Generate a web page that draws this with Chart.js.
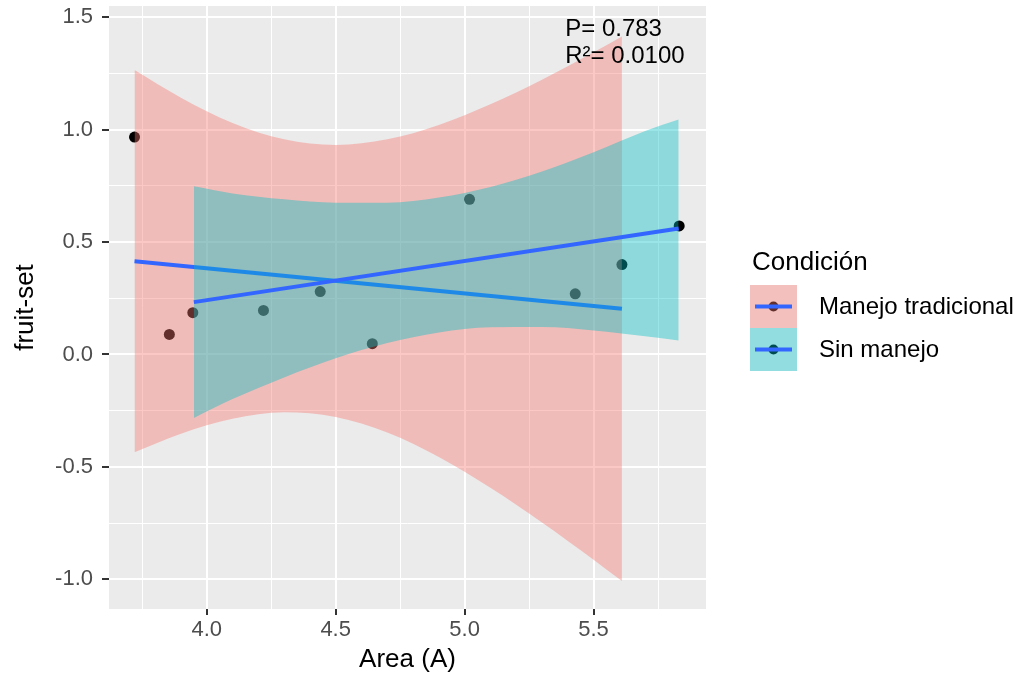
<!DOCTYPE html>
<html lang="es">
<head>
<meta charset="UTF-8">
<title>fruit-set vs Area (A)</title>
<script src="https://cdn.jsdelivr.net/npm/chart.js"></script>
<style>
    body { margin: 0; background: #fff; }
    #wrap { width: 1022px; height: 682px; }
</style>
</head>
<body>
<div id="wrap"><canvas id="fruitChart" width="1022" height="682"></canvas></div>
<script>
    // grupos
    const groups = ['Manejo tradicional', 'Sin manejo'];
    const groupFill = ['rgba(248,118,109,0.4)', 'rgba(0,191,196,0.4)'];
    const lineColor = '#3366FF';

    // puntos observados
    const tradX = [3.72, 3.855, 4.44, 5.61];
    const tradY = [0.967, 0.089, 0.280, 0.400];
    const sinX = [3.946, 4.22, 4.642, 5.019, 5.429, 5.832];
    const sinY = [0.186, 0.196, 0.048, 0.690, 0.270, 0.572];

    // rectas ajustadas (extremos)
    const tradFitX = [3.72, 5.61];
    const tradFitY = [0.415, 0.203];
    const sinFitX = [3.95, 5.83];
    const sinFitY = [0.233, 0.560];

    // bandas de confianza
    const tradBandX = [3.72, 3.9, 4.1, 4.3, 4.5, 4.7, 4.9, 5.1, 5.3, 5.5, 5.61];
    const tradUpper = [1.265, 1.142, 1.030, 0.957, 0.932, 0.957, 1.021, 1.113, 1.222, 1.344, 1.414];
    const tradLower = [-0.435, -0.352, -0.286, -0.257, -0.278, -0.347, -0.456, -0.593, -0.747, -0.913, -1.008];
    const sinBandX = [3.95, 4.1, 4.3, 4.5, 4.7, 4.9, 5.1, 5.3, 5.5, 5.7, 5.83];
    const sinUpper = [0.748, 0.716, 0.690, 0.675, 0.675, 0.698, 0.745, 0.814, 0.899, 0.994, 1.045];
    const sinLower = [-0.282, -0.198, -0.102, -0.017, 0.051, 0.098, 0.121, 0.122, 0.107, 0.081, 0.062];

    // ejes
    const xTicks = [3.75, 4.0, 4.25, 4.5, 4.75, 5.0, 5.25, 5.5, 5.75];
    const yTicks = [-1.0, -0.75, -0.5, -0.25, 0, 0.25, 0.5, 0.75, 1.0, 1.25, 1.5];
    const xRange = [3.621, 5.936];
    const yRange = [-1.132, 1.55];

    // texto de la anotación
    const noteText = ['P= 0.783', 'R\u00B2= 0.0100'];
    const noteX = 5.39;
    const noteY = [1.417, 1.297];

    const FONT = '"Liberation Sans", Arial, Helvetica, sans-serif';
    Chart.defaults.font.family = FONT;

    const toXY = (xs, ys) => xs.map((x, i) => ({ x: x, y: ys[i] }));
    const isMajor = v => Math.abs(v * 2 - Math.round(v * 2)) < 1e-9;

    function band(xs, ys, color, fill, order) {
        return {
            type: 'line', data: toXY(xs, ys), order: order,
            borderWidth: 0, borderColor: 'rgba(0,0,0,0)', backgroundColor: color,
            pointRadius: 0, fill: fill, cubicInterpolationMode: 'monotone'
        };
    }
    function fitLine(xs, ys, order) {
        return {
            type: 'line', data: toXY(xs, ys), order: order,
            borderColor: lineColor, borderWidth: 4, pointRadius: 0, fill: false
        };
    }
    function points(xs, ys) {
        return {
            type: 'line', data: toXY(xs, ys), order: 4, showLine: false,
            pointRadius: 5.5, pointBackgroundColor: '#000', pointBorderWidth: 0
        };
    }

    // fondo gris del panel
    const panelBg = {
        id: 'panelBg',
        beforeDraw(chart) {
            const { ctx, chartArea: a } = chart;
            ctx.save();
            ctx.fillStyle = '#EBEBEB';
            ctx.fillRect(a.left, a.top, a.right - a.left, a.bottom - a.top);
            ctx.restore();
        }
    };

    // P y R2
    const statsNote = {
        id: 'statsNote',
        afterDatasetsDraw(chart) {
            const { ctx, scales } = chart;
            ctx.save();
            ctx.font = '24px ' + FONT;
            ctx.fillStyle = '#000';
            ctx.textAlign = 'left';
            ctx.textBaseline = 'alphabetic';
            const px = scales.x.getPixelForValue(noteX);
            noteText.forEach((t, i) => ctx.fillText(t, px, scales.y.getPixelForValue(noteY[i])));
            ctx.restore();
        }
    };

    // leyenda estilo ggplot
    const sideLegend = {
        id: 'sideLegend',
        afterDraw(chart) {
            const ctx = chart.ctx;
            const left = 750, top = 285, kw = 47, kh = 43;
            ctx.save();
            ctx.fillStyle = '#000';
            ctx.font = '26px ' + FONT;
            ctx.textBaseline = 'alphabetic';
            ctx.fillText('Condición', 752, 270);
            groups.forEach((g, i) => {
                const y0 = top + i * kh;
                const cy = y0 + kh / 2;
                ctx.fillStyle = '#F2F2F2';
                ctx.fillRect(left, y0, kw, kh);
                ctx.fillStyle = '#000';
                ctx.beginPath();
                ctx.arc(left + kw / 2, cy, 5, 0, Math.PI * 2);
                ctx.fill();
                ctx.fillStyle = groupFill[i];
                ctx.fillRect(left, y0, kw, kh);
                ctx.strokeStyle = lineColor;
                ctx.lineWidth = 4;
                ctx.beginPath();
                ctx.moveTo(left + 5, cy);
                ctx.lineTo(left + kw - 5, cy);
                ctx.stroke();
                ctx.fillStyle = '#000';
                ctx.font = '24px ' + FONT;
                ctx.textBaseline = 'middle';
                ctx.fillText(g, 819, cy + 1);
            });
            ctx.restore();
        }
    };

    const gridOpts = {
        color: '#FFFFFF',
        lineWidth: c => (c.tick && isMajor(c.tick.value)) ? 2 : 1,
        tickColor: c => (c.tick && isMajor(c.tick.value)) ? '#333333' : 'rgba(0,0,0,0)',
        tickWidth: 2,
        drawTicks: true
    };

    const ctx = document.getElementById('fruitChart').getContext('2d');
    new Chart(ctx, {
        type: 'line',
        data: {
            datasets: [
                fitLine(sinFitX, sinFitY, 0),
                band(sinBandX, sinUpper, groupFill[1], '+1', 1),
                band(sinBandX, sinLower, groupFill[1], false, 1),
                fitLine(tradFitX, tradFitY, 2),
                band(tradBandX, tradUpper, groupFill[0], '+1', 3),
                band(tradBandX, tradLower, groupFill[0], false, 3),
                points(tradX, tradY),
                points(sinX, sinY)
            ]
        },
        options: {
            responsive: false,
            animation: false,
            devicePixelRatio: 1,
            layout: { padding: { top: 6, right: 316, left: 0, bottom: 0 } },
            plugins: { legend: { display: false }, tooltip: { enabled: false } },
            scales: {
                x: {
                    type: 'linear', min: xRange[0], max: xRange[1],
                    afterBuildTicks: s => { s.ticks = xTicks.map(v => ({ value: v })); },
                    afterFit: s => { s.height = 73; s.paddingLeft = 0; s.paddingRight = 0; },
                    border: { display: false },
                    grid: Object.assign({ tickLength: 6 }, gridOpts),
                    ticks: {
                        autoSkip: false, maxRotation: 0, padding: 2,
                        color: '#4D4D4D', font: { size: 22 },
                        callback: v => isMajor(v) ? v.toFixed(1) : ''
                    },
                    title: {
                        display: true, text: 'Area (A)', color: '#000',
                        font: { size: 26 }, padding: { top: 0, bottom: 7 }
                    }
                },
                y: {
                    type: 'linear', min: yRange[0], max: yRange[1],
                    afterBuildTicks: s => { s.ticks = yTicks.map(v => ({ value: v })); },
                    afterFit: s => { s.width = 109; s.paddingTop = 0; s.paddingBottom = 0; },
                    border: { display: false },
                    grid: Object.assign({ tickLength: 7 }, gridOpts),
                    ticks: {
                        autoSkip: false, padding: 9,
                        color: '#4D4D4D', font: { size: 22 },
                        callback: v => isMajor(v) ? v.toFixed(1) : ''
                    },
                    title: {
                        display: true, text: 'fruit-set', color: '#000',
                        font: { size: 26 }, padding: { top: 10, bottom: 0 }
                    }
                }
            }
        },
        plugins: [panelBg, statsNote, sideLegend]
    });
</script>
</body>
</html>
